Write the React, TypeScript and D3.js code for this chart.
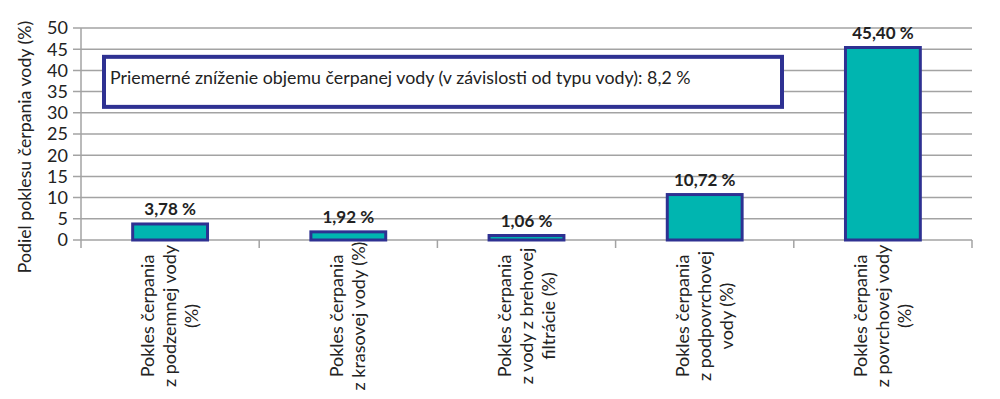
import React, { useEffect } from 'react';
import * as d3 from 'd3';

const categories = [
  ['Pokles čerpania', 'z podzemnej vody', '(%)'],
  ['Pokles čerpania', 'z krasovej vody (%)'],
  ['Pokles čerpania', 'z vody z brehovej', 'filtrácie (%)'],
  ['Pokles čerpania', 'z podpovrchovej', 'vody (%)'],
  ['Pokles čerpania', 'z povrchovej vody', '(%)'],
];
const values = [3.78, 1.92, 1.06, 10.72, 45.4];
const valueLabels = ['3,78 %', '1,92 %', '1,06 %', '10,72 %', '45,40 %'];
const yTicks = [0, 5, 10, 15, 20, 25, 30, 35, 40, 45, 50];
const yTitle = 'Podiel poklesu čerpania vody (%)';
const noteText = 'Priemerné zníženie objemu čerpanej vody (v závislosti od typu vody): 8,2 %';
// note box spans these values on the y scale
const noteRange = [31.4, 43.2];

const width = 1000;
const height = 399;
const margin = { top: 28, right: 28, bottom: 159, left: 81 };
const font = 'Lato, "Open Sans", sans-serif';
const navy = '#2e3192';
const teal = '#00b5b0';
const grid = '#a3a3a3';

const App = () => {
  useEffect(() => {
    document.body.style.margin = '0';
  }, []);

  const idx = d3.range(values.length);
  const x = d3.scaleBand<number>()
    .domain(idx)
    .range([margin.left, width - margin.right])
    .paddingInner(0.58)
    .paddingOuter(0.29);
  const band = (width - margin.right - margin.left) / values.length;
  const y = d3.scaleLinear()
    .domain([0, 50])
    .range([height - margin.bottom, margin.top]);

  const y0 = y(0);

  return (
    <svg width={width} height={height} style={{ display: 'block', fontFamily: font }}>
      {/* grid + y ticks */}
      {yTicks.map(t => (
        <g key={t}>
          <line x1={margin.left - 8} x2={width - margin.right} y1={y(t)} y2={y(t)}
            stroke={grid} strokeWidth={1.5} />
          <text x={margin.left - 13} y={y(t)} dy="0.36em" textAnchor="end"
            fontSize={18} fill="#222">{t}</text>
        </g>
      ))}
      <line x1={margin.left} x2={margin.left} y1={margin.top} y2={y0} stroke={grid} strokeWidth={1.5} />
      {/* category boundary ticks */}
      {d3.range(values.length + 1).map(i => (
        <line key={i} x1={margin.left + i * band} x2={margin.left + i * band}
          y1={y0} y2={y0 + 8} stroke={grid} strokeWidth={1.5} />
      ))}

      {/* bars */}
      {values.map((v, i) => (
        <g key={i}>
          <rect x={x(i)} y={y(v)} width={x.bandwidth()} height={y0 - y(v)}
            fill={teal} stroke={navy} strokeWidth={3} />
          <text x={(x(i) as number) + x.bandwidth() / 2} y={y(v) - 9}
            textAnchor="middle" fontSize={17} fontWeight="bold" fill="#222">
            {valueLabels[i]}
          </text>
        </g>
      ))}

      {/* category labels */}
      {categories.map((lines, i) => {
        const cx = (x(i) as number) + x.bandwidth() / 2;
        return (
          <text key={i} transform={`translate(${cx},316) rotate(-90)`}
            textAnchor="middle" fontSize={18} fill="#222">
            {lines.map((l, j) => (
              <tspan key={j} x={0} y={(j - (lines.length - 1) / 2) * 22 + 6}>{l}</tspan>
            ))}
          </text>
        );
      })}

      {/* note box */}
      <rect x={104} y={y(noteRange[1])} width={678} height={y(noteRange[0]) - y(noteRange[1])}
        fill="#fff" stroke={navy} strokeWidth={4} />
      <text x={110} y={y(noteRange[1]) + 27} fontSize={17.8} fill="#222">{noteText}</text>

      {/* y title */}
      <text transform={`translate(31,147) rotate(-90)`} textAnchor="middle"
        fontSize={17.7} fill="#222">{yTitle}</text>
    </svg>
  );
};

export default App;
